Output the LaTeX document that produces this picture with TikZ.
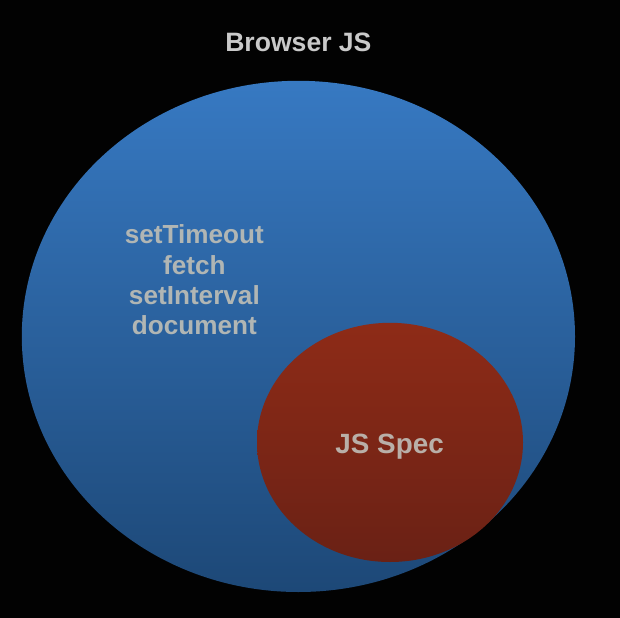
\documentclass[tikz,border=0pt]{standalone}
\usepackage{fontspec}
\setmainfont{Liberation Sans}
\usetikzlibrary{shapes.geometric,positioning}

\definecolor{bgblack}{HTML}{020202}
\definecolor{outertop}{HTML}{3779C2}
\definecolor{outerbot}{HTML}{1D4877}
\definecolor{innertop}{HTML}{8E2B17}
\definecolor{innerbot}{HTML}{6A2115}
\definecolor{titlegray}{HTML}{C9C9C9}
\definecolor{listgray}{HTML}{B1B6B4}
\definecolor{specgray}{HTML}{B9AFA8}

\begin{document}
\begin{tikzpicture}[
    outer/.style={ellipse, inner sep=0pt, top color=outertop, bottom color=outerbot, minimum width=13.83cm, minimum height=12.78cm},
    inner/.style={ellipse, inner sep=0pt, top color=innertop, bottom color=innerbot, minimum width=6.65cm, minimum height=5.98cm},
    label/.style={font=\bfseries\fontsize{18.9pt}{22pt}\selectfont, text=titlegray}
]
\fill[bgblack] (0,0) rectangle (15.5,-15.45);

\node[label] (title) at (7.46,-1.3) [anchor=base] {Browser JS};

\node[outer] (browser) at (7.46,-8.41) {};
\node[inner] (spec) at (9.75,-11.06) {};

\node[label, text=listgray, align=center, font=\bfseries\fontsize{18.6pt}{21.6pt}\selectfont] (apis) at (4.86,-7.0) {setTimeout\\fetch\\setInterval\\document};
\node[label, text=specgray, font=\bfseries\fontsize{19.8pt}{22pt}\selectfont, anchor=base] (spectext) at (9.74,-11.33) {JS Spec};
\end{tikzpicture}
\end{document}
